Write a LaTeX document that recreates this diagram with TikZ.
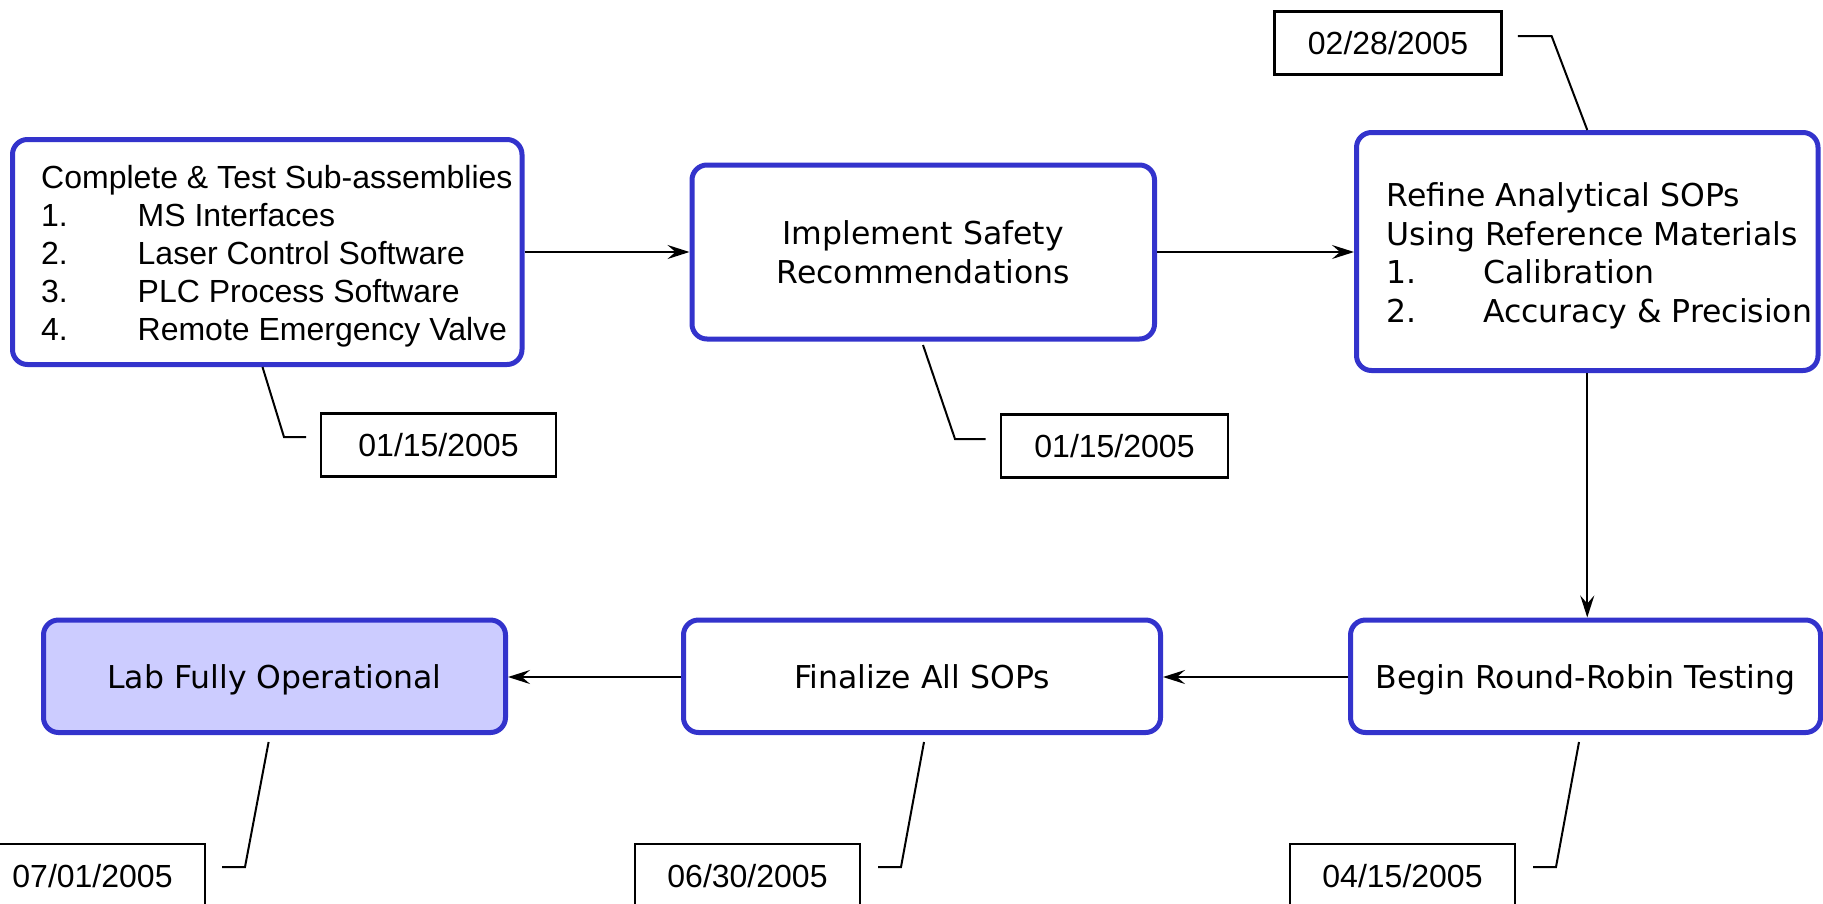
\documentclass[tikz,border=0pt]{standalone}
\usepackage{fontspec}
\setmainfont{DejaVu Sans}
\newfontfamily\arialf{Liberation Sans}
\usetikzlibrary{arrows.meta,calc}
\definecolor{boxblue}{RGB}{51,51,204}
\definecolor{lav}{RGB}{204,204,255}
\tikzset{
  stage/.style={draw=boxblue, line width=5pt, rounded corners=15pt, fill=white, inner sep=0pt,
    font=\fontsize{31.5}{38.5}\selectfont},
  stagetext/.style={inner sep=0pt, align=left, anchor=west},
  datebox/.style={draw=black, line width=2.5pt, inner sep=0pt, fill=white,
    minimum height=63pt, font=\arialf\fontsize{32}{38}\selectfont},
  flow/.style={line width=2pt, -{Stealth[length=22pt,width=14pt,inset=8pt]}},
  leader/.style={line width=2pt},
}
\begin{document}
\begin{tikzpicture}[x=1pt,y=-1pt]
\useasboundingbox (0,0) rectangle (1823,903);

% stage boxes
\node[stage, minimum width=509.5pt, minimum height=225pt] (b1) at (267.25,252) {};
\node[stagetext, font=\arialf\fontsize{32}{38}\selectfont] (t1) at (41,256.5)
  {Complete \& Test Sub-assemblies\\
   \makebox[96.5pt][l]{1.}MS Interfaces\\
   \makebox[96.5pt][l]{2.}Laser Control Software\\
   \makebox[96.5pt][l]{3.}PLC Process Software\\
   \makebox[96.5pt][l]{4.}Remote Emergency Valve};

\node[stage, align=center, minimum width=462.5pt, minimum height=174pt] (b2) at (923.25,252)
  {Implement Safety\\Recommendations};

\node[stage, minimum width=461.5pt, minimum height=238pt] (b3) at (1587.25,251.5) {};
\node[stagetext, font=\fontsize{31.5}{38.5}\selectfont] (t3) at (1386.7,256)
  {Refine Analytical SOPs\\
   Using Reference Materials\\
   \makebox[96.3pt][l]{1.}Calibration\\
   \makebox[96.3pt][l]{2.}Accuracy \& Precision};

\node[stage, text height=24.6pt, text depth=0pt, minimum width=470pt, minimum height=112.5pt] (b4) at (1585.5,676.25)
  {Begin Round-Robin Testing};
\node[stage, text height=24.6pt, text depth=0pt, minimum width=477pt, minimum height=112.5pt] (b5) at (922,676.25)
  {Finalize All SOPs};
\node[stage, fill=lav, text height=24.6pt, text depth=0pt, minimum width=462pt, minimum height=112.5pt] (b6) at (274.5,676.25)
  {Lab Fully Operational};

% flow arrows
\draw[flow] (b1.east |- 0,252) -- (b2.west |- 0,252);
\draw[flow] (b2.east |- 0,252) -- (b3.west |- 0,252);
\draw[flow] (b3.south) -- (b3.south |- b4.north);
\draw[flow] (b4.west |- 0,677) -- (b5.east |- 0,677);
\draw[flow] (b5.west |- 0,677) -- (b6.east |- 0,677);

% date boxes
\node[datebox, minimum width=235pt] (d1) at (438.5,445) {01/15/2005};
\node[datebox, minimum width=227pt] (d2) at (1114.5,446) {01/15/2005};
\node[datebox, minimum width=227pt] (d3) at (1388,43) {02/28/2005};
\node[datebox, minimum width=225pt, minimum height=64pt] (d4) at (92.5,876) {07/01/2005};
\node[datebox, minimum width=225pt, minimum height=64pt] (d5) at (747.5,876) {06/30/2005};
\node[datebox, minimum width=225pt, minimum height=64pt] (d6) at (1402.5,876) {04/15/2005};

% leader lines
\coordinate (l1a) at (262.5,367);  \coordinate (l1b) at (284,437);  \coordinate (l1c) at (306,437);
\coordinate (l2a) at (923,345);    \coordinate (l2b) at (955,439);  \coordinate (l2c) at (985.6,439);
\coordinate (l3a) at (1517.8,36);  \coordinate (l3b) at (1551.6,36);
\coordinate (l4a) at (268.6,742);  \coordinate (l4b) at (245,867);  \coordinate (l4c) at (222,867);
\coordinate (l5a) at (924,742);    \coordinate (l5b) at (901,867);  \coordinate (l5c) at (878,867);
\coordinate (l6a) at (1579,742);   \coordinate (l6b) at (1556,867); \coordinate (l6c) at (1533,867);

\draw[leader] (l1a) -- (l1b) -- (l1c);
\draw[leader] (l2a) -- (l2b) -- (l2c);
\draw[leader] (l3a) -- (l3b) -- (b3.north);
\draw[leader] (l4a) -- (l4b) -- (l4c);
\draw[leader] (l5a) -- (l5b) -- (l5c);
\draw[leader] (l6a) -- (l6b) -- (l6c);
\end{tikzpicture}
\end{document}
